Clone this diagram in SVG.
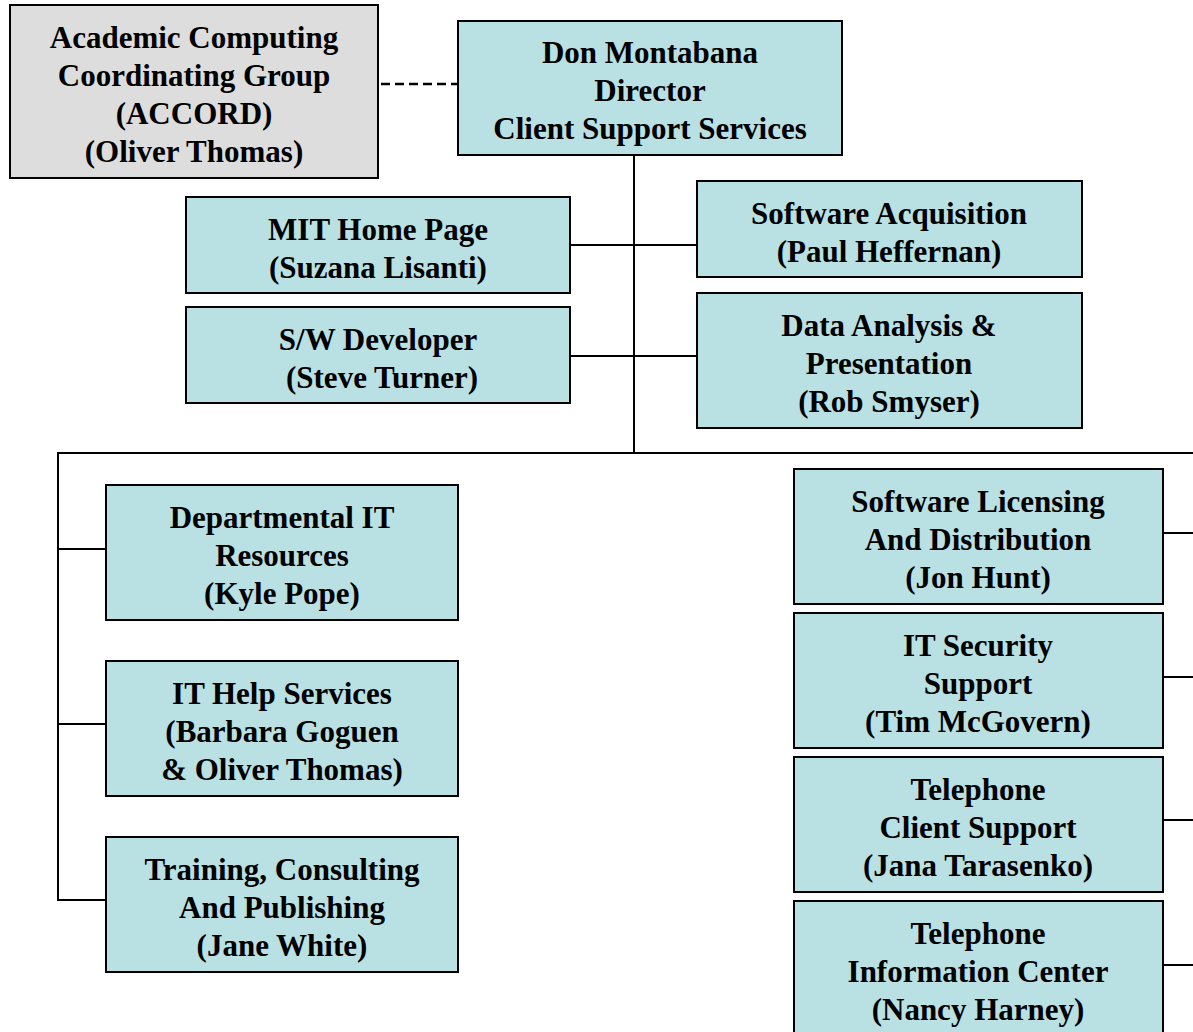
<svg xmlns="http://www.w3.org/2000/svg" width="1193" height="1032" viewBox="0 0 1193 1032">
<style>
.box{fill:#B9E0E3;stroke:#000;stroke-width:2}
.gray{fill:#DDDDDD;stroke:#000;stroke-width:2}
.t{font-family:"Liberation Serif","Times New Roman",serif;font-weight:bold;font-size:31px;fill:#000;text-anchor:middle}
.c{stroke:#000;stroke-width:2;fill:none}
.d{stroke:#000;stroke-width:2.5;fill:none;stroke-dasharray:9,5}
</style>
<rect width="1193" height="1032" fill="#fff"/>
<g id="connectors">
<line class="d" x1="381" y1="84" x2="457" y2="84"/>
<line class="c" x1="634" y1="156" x2="634" y2="453"/>
<line class="c" x1="570" y1="245" x2="697" y2="245"/>
<line class="c" x1="570" y1="356" x2="697" y2="356"/>
<line class="c" x1="57" y1="453" x2="1193" y2="453"/>
<line class="c" x1="58" y1="452" x2="58" y2="901"/>
<line class="c" x1="57" y1="549" x2="106" y2="549"/>
<line class="c" x1="57" y1="724" x2="106" y2="724"/>
<line class="c" x1="57" y1="900" x2="106" y2="900"/>
<line class="c" x1="1163" y1="533" x2="1193" y2="533"/>
<line class="c" x1="1163" y1="677" x2="1193" y2="677"/>
<line class="c" x1="1163" y1="820" x2="1193" y2="820"/>
<line class="c" x1="1163" y1="965" x2="1193" y2="965"/>
</g>
<g id="accord">
<rect class="gray" x="10" y="5" width="368" height="173"/>
<text class="t" x="194" y="48">Academic Computing</text>
<text class="t" x="194" y="86">Coordinating Group</text>
<text class="t" x="194" y="124">(ACCORD)</text>
<text class="t" x="194" y="162">(Oliver Thomas)</text>
</g>
<g id="director">
<rect class="box" x="458" y="21" width="384" height="134"/>
<text class="t" x="650" y="63">Don Montabana</text>
<text class="t" x="650" y="101">Director</text>
<text class="t" x="650" y="139">Client Support Services</text>
</g>
<g id="mit-home-page">
<rect class="box" x="186" y="197" width="384" height="96"/>
<text class="t" x="378" y="240">MIT Home Page</text>
<text class="t" x="378" y="278">(Suzana Lisanti)</text>
</g>
<g id="sw-developer">
<rect class="box" x="186" y="307" width="384" height="96"/>
<text class="t" x="378" y="350">S/W Developer</text>
<text class="t" x="382" y="388">(Steve Turner)</text>
</g>
<g id="software-acquisition">
<rect class="box" x="697" y="181" width="385" height="96"/>
<text class="t" x="889" y="224">Software Acquisition</text>
<text class="t" x="889" y="262">(Paul Heffernan)</text>
</g>
<g id="data-analysis">
<rect class="box" x="697" y="293" width="385" height="135"/>
<text class="t" x="889" y="336">Data Analysis &amp;</text>
<text class="t" x="889" y="374">Presentation</text>
<text class="t" x="889" y="412">(Rob Smyser)</text>
</g>
<g id="departmental-it">
<rect class="box" x="106" y="485" width="352" height="135"/>
<text class="t" x="282" y="528">Departmental IT</text>
<text class="t" x="282" y="566">Resources</text>
<text class="t" x="282" y="604">(Kyle Pope)</text>
</g>
<g id="it-help">
<rect class="box" x="106" y="661" width="352" height="135"/>
<text class="t" x="282" y="704">IT Help Services</text>
<text class="t" x="282" y="742">(Barbara Goguen</text>
<text class="t" x="282" y="780">&amp; Oliver Thomas)</text>
</g>
<g id="training">
<rect class="box" x="106" y="837" width="352" height="135"/>
<text class="t" x="282" y="880">Training, Consulting</text>
<text class="t" x="282" y="918">And Publishing</text>
<text class="t" x="282" y="956">(Jane White)</text>
</g>
<g id="software-licensing">
<rect class="box" x="794" y="469" width="369" height="135"/>
<text class="t" x="978" y="512">Software Licensing</text>
<text class="t" x="978" y="550">And Distribution</text>
<text class="t" x="978" y="588">(Jon Hunt)</text>
</g>
<g id="it-security">
<rect class="box" x="794" y="613" width="369" height="135"/>
<text class="t" x="978" y="656">IT Security</text>
<text class="t" x="978" y="694">Support</text>
<text class="t" x="978" y="732">(Tim McGovern)</text>
</g>
<g id="telephone-client-support">
<rect class="box" x="794" y="757" width="369" height="135"/>
<text class="t" x="978" y="800">Telephone</text>
<text class="t" x="978" y="838">Client Support</text>
<text class="t" x="978" y="876">(Jana Tarasenko)</text>
</g>
<g id="telephone-information-center">
<rect class="box" x="794" y="901" width="369" height="140"/>
<text class="t" x="978" y="944">Telephone</text>
<text class="t" x="978" y="982">Information Center</text>
<text class="t" x="978" y="1020">(Nancy Harney)</text>
</g>
</svg>
